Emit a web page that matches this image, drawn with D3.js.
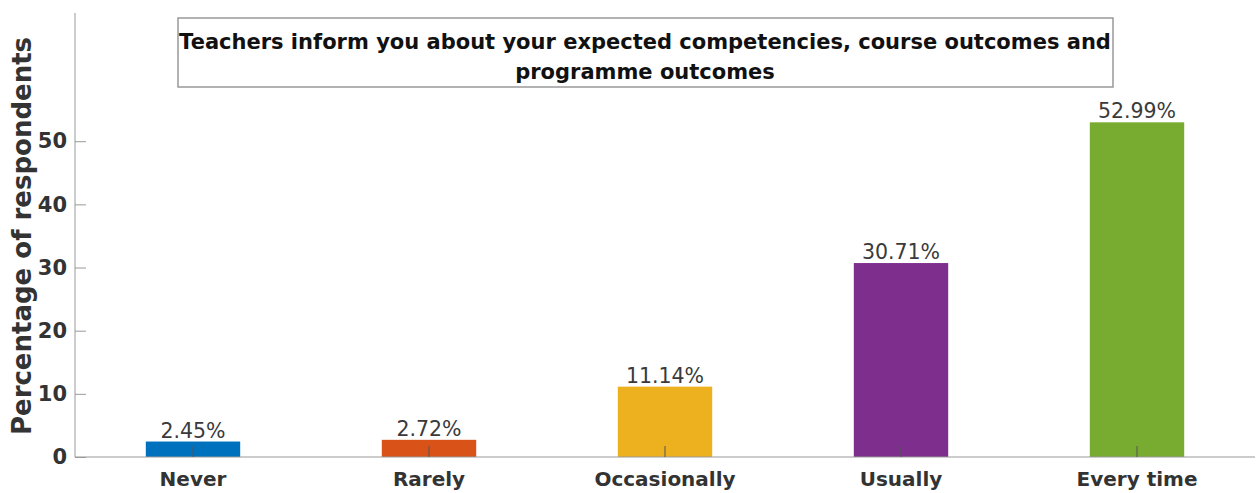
<!DOCTYPE html>
<html>
<head>
<meta charset="utf-8">
<script src="https://cdn.jsdelivr.net/npm/d3@7"></script>
<style>
  body { margin: 0; background: #fff; }
  svg { font-family: "DejaVu Sans", sans-serif; }
</style>
</head>
<body>
<div id="chart"></div>
<script>
// data
let categories = ['Never', 'Rarely', 'Occasionally', 'Usually', 'Every time'];
let values = [2.45, 2.72, 11.14, 30.71, 52.99];
let barColors = ['#0072BD', '#D95319', '#EDB120', '#7E2F8E', '#77AC30'];
let yTicks = [0, 10, 20, 30, 40, 50];
let titleLines = ['Teachers inform you about your expected competencies, course outcomes and', 'programme outcomes'];

let width = 1260, height = 493;
let margin = {left: 75, right: 5, top: 13, bottom: 36};

let svg = d3.select('#chart').append('svg')
    .attr('width', width)
    .attr('height', height);

let x = d3.scaleBand()
    .domain(categories)
    .range([margin.left, width - margin.right])
    .paddingInner(0.6)
    .paddingOuter(0.3);

let y = d3.scaleLinear()
    .domain([0, 70.3])
    .range([height - margin.bottom, margin.top]);

// bars
svg.selectAll('rect.bar')
    .data(values)
    .enter()
    .append('rect')
    .attr('class', 'bar')
    .attr('x', (d, i) => x(categories[i]))
    .attr('y', d => y(d))
    .attr('width', x.bandwidth())
    .attr('height', d => y(0) - y(d))
    .attr('fill', (d, i) => barColors[i]);

// value labels
svg.selectAll('text.val')
    .data(values)
    .enter()
    .append('text')
    .attr('class', 'val')
    .attr('x', (d, i) => x(categories[i]) + x.bandwidth() / 2)
    .attr('y', d => y(d) - 4)
    .attr('text-anchor', 'middle')
    .attr('font-size', 20.5)
    .attr('fill', '#3a3a3a')
    .text(d => d.toFixed(2) + '%');

// y axis, ticks pointing inward
let yAxis = d3.axisLeft(y).tickValues(yTicks).tickSize(-11).tickPadding(8);
let gy = svg.append('g')
    .attr('transform', `translate(${margin.left},0)`)
    .call(yAxis);
gy.select('.domain').attr('stroke', '#999').attr('d', `M0,${y.range()[1]}V${y.range()[0]}`);
gy.selectAll('.tick line').attr('stroke', '#999');
gy.selectAll('.tick text')
    .attr('font-size', 21)
    .attr('font-weight', 'bold')
    .attr('fill', '#333')
    .attr('font-family', '"DejaVu Sans", sans-serif');

// x axis
let xAxis = d3.axisBottom(x).tickSize(-11).tickPadding(15);
let gx = svg.append('g')
    .attr('transform', `translate(0,${y(0)})`)
    .call(xAxis);
gx.select('.domain').attr('stroke', '#999').attr('d', `M${margin.left},0H${width - margin.right}`);
gx.selectAll('.tick line').attr('stroke', '#555');
gx.selectAll('.tick text')
    .attr('font-size', 20)
    .attr('font-weight', 'bold')
    .attr('fill', '#333')
    .attr('font-family', '"DejaVu Sans", sans-serif');

// y axis label
svg.append('text')
    .attr('transform', 'translate(31,236) rotate(-90)')
    .attr('text-anchor', 'middle')
    .attr('font-size', 26)
    .attr('font-weight', 'bold')
    .attr('fill', '#333')
    .text('Percentage of respondents');

// title box
svg.append('rect')
    .attr('x', 178)
    .attr('y', 18)
    .attr('width', 935)
    .attr('height', 69)
    .attr('fill', '#fff')
    .attr('stroke', '#999')
    .attr('stroke-width', 1.5);

svg.selectAll('text.title')
    .data(titleLines)
    .enter()
    .append('text')
    .attr('class', 'title')
    .attr('x', 645)
    .attr('y', (d, i) => 49 + i * 30)
    .attr('text-anchor', 'middle')
    .attr('font-size', 21)
    .attr('font-weight', 'bold')
    .attr('fill', '#111')
    .text(d => d);
</script>
</body>
</html>
